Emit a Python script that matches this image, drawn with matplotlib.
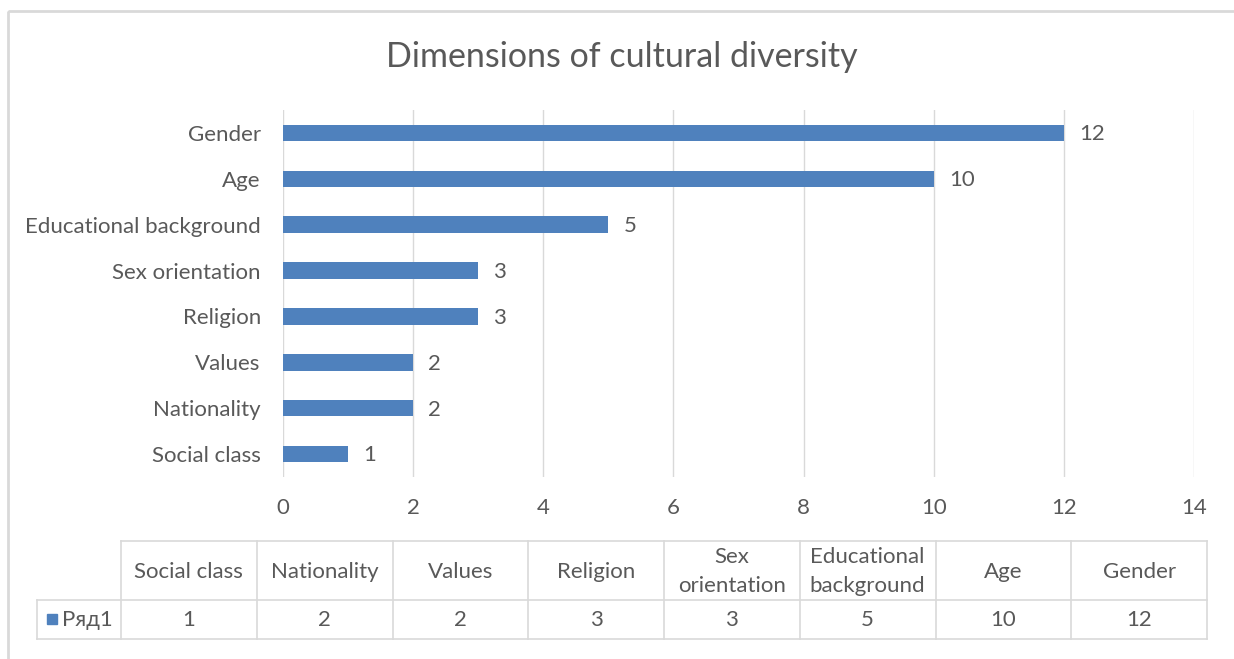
import matplotlib.pyplot as plt
from matplotlib.patches import Rectangle
from matplotlib.lines import Line2D

plt.rcParams['font.family'] = ['Lato', 'Noto Sans', 'DejaVu Sans']

categories = ["Social class", "Nationality", "Values", "Religion",
              "Sex orientation", "Educational background", "Age", "Gender"]
table_headers = ["Social class", "Nationality", "Values", "Religion",
                 "Sex\norientation", "Educational\nbackground", "Age", "Gender"]
values = [1, 2, 2, 3, 3, 5, 10, 12]
series_name = "Ряд1"
title = "Dimensions of cultural diversity"

bar_color = "#4F81BD"
text_color = "#595959"
grid_color = "#D9D9D9"
fs = 16

W, H = 1234, 659
fig = plt.figure(figsize=(W / 100, H / 100), dpi=100)

# overlay axes in pixel units for the frame and the data table
bg = fig.add_axes([0, 0, 1, 1])
bg.set_xlim(0, W)
bg.set_ylim(H, 0)
bg.axis("off")
bg.add_patch(Rectangle((8, 11), W, H, fill=False, edgecolor="#D9D9D9", lw=2))

# bar chart
ax = fig.add_axes([283 / W, (H - 477) / H, (1194 - 283) / W, (477 - 110) / H])
y = range(len(categories))
bars = ax.barh(y, values, height=0.36, color=bar_color)
ax.set_xlim(0, 14)
ax.set_ylim(-0.5, len(categories) - 0.5)
ax.set_xticks(range(0, 15, 2))
ax.set_yticks(list(y))
ax.set_yticklabels(categories)
ax.tick_params(axis="both", length=0, labelsize=fs, colors=text_color)
ax.tick_params(axis="x", pad=15)
ax.tick_params(axis="y", pad=16)
ax.grid(axis="x", color=grid_color, lw=1)
ax.set_axisbelow(True)
for s in ax.spines.values():
    s.set_visible(False)
for b, v in zip(bars, values):
    ax.annotate(str(v), (v, b.get_y() + b.get_height() / 2), xytext=(11, -1),
                textcoords="offset points", va="center", ha="left",
                fontsize=fs, color=text_color)

fig.text(0.504, (H - 57) / H, title, ha="center", va="center",
         fontsize=24.5, color=text_color)

# data table under the axis
x0, x1 = 121, 1207
key_left = 37
top, mid, bottom = 541, 600, 639
n = len(categories)
cw = (x1 - x0) / n
lc = dict(color=grid_color, lw=1.2)
bg.add_line(Line2D([x0, x1], [top, top], **lc))
bg.add_line(Line2D([key_left, x1], [mid, mid], **lc))
bg.add_line(Line2D([key_left, x1], [bottom, bottom], **lc))
bg.add_line(Line2D([key_left, key_left], [mid, bottom], **lc))
for i in range(n + 1):
    bg.add_line(Line2D([x0 + i * cw, x0 + i * cw], [top, bottom], **lc))
for i, (h, v) in enumerate(zip(table_headers, values)):
    cx = x0 + (i + 0.5) * cw
    bg.text(cx, (top + mid) / 2 + 1, h, ha="center", va="center", fontsize=fs,
            color=text_color, linespacing=1.55)
    bg.text(cx, (mid + bottom) / 2, str(v), ha="center", va="center",
            fontsize=fs, color=text_color)
bg.add_patch(Rectangle((47, 614), 10, 10, color=bar_color))
bg.text(62, (mid + bottom) / 2, series_name, ha="left", va="center",
        fontsize=fs, color=text_color)

fig.savefig("out.png", dpi=100)
